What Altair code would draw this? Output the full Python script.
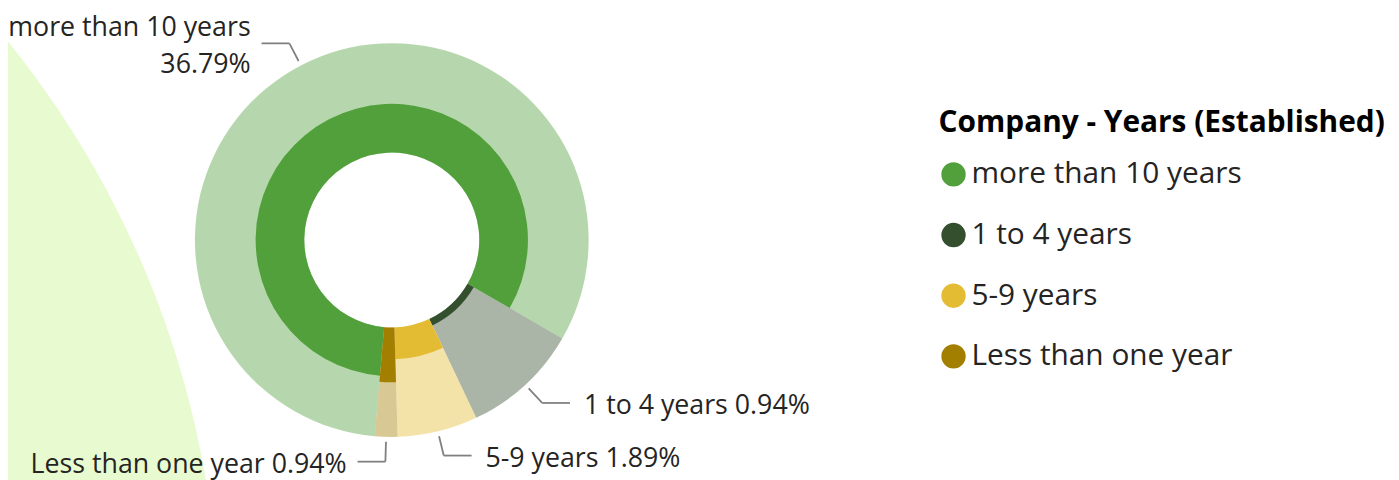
import math
import altair as alt

# ---------------- data ----------------
categories = ["more than 10 years", "1 to 4 years", "5-9 years", "Less than one year"]
slice_weight = [295.0, 34.6, 23.7, 6.7]        # angular extent of each slice
inner_value = [44.5, 6.5, 29.0, 50.0]          # radial length of the dark part (0-100)
share_pct = ["36.79%", "0.94%", "1.89%", "0.94%"]
dark_colors = ["#52A03B", "#344F2E", "#E4BC33", "#A37F00"]

label_lines = [[categories[0], share_pct[0]]] + [
    [f"{c} {p}"] for c, p in zip(categories[1:], share_pct[1:])
]

records = [
    {"idx": i, "cat": c, "span": s, "inner": v, "label": l, "nlines": len(l)}
    for i, (c, s, v, l) in enumerate(zip(categories, slice_weight, inner_value, label_lines))
]

# ---------------- layout ----------------
W, H = 1391, 472
CX, CY = 386, 232
HOLE, OUTER = 88, 198
START_DEG = 185.0
START = math.radians(START_DEG)
R1, R2, HLEN = 203, 223, 28
GAP_R, GAP_L = 14, 11
LH = 37

base = (
    alt.Chart(alt.Data(values=records))
    .transform_joinaggregate(total="sum(span)")
    .transform_window(cum="sum(span)", sort=[alt.SortField("idx")], frame=[None, 0])
    .transform_calculate(
        t0="(datum.cum - datum.span) / datum.total",
        t1="datum.cum / datum.total",
        mid=f"{START} + (datum.cum - datum.span / 2) / datum.total * 2 * PI",
    )
)

theta_scale = alt.Scale(domain=[0, 1], range=[START, START + 2 * math.pi])
color = alt.Color(
    "cat:N",
    scale=alt.Scale(domain=categories, range=dark_colors),
    legend=alt.Legend(
        title="Company - Years (Established)",
        orient="none", legendX=936, legendY=99,
        symbolType="circle", symbolSize=600, symbolStrokeWidth=0, symbolOpacity=1,
        labelFont="Open Sans", labelFontSize=30, labelColor="#252423",
        titleFont="Open Sans", titleFontSize=30, titleFontWeight="bold",
        titleColor="#000000", titlePadding=22, rowPadding=31, labelOffset=3,
        titleLimit=700, labelLimit=600,
    ),
)

bg = alt.Chart(alt.Data(values=[{"bg": 1}])).mark_arc(
    theta=0, theta2=2 * math.pi, radius=953, innerRadius=0, color="#E8FBD0"
).encode(x=alt.value(-741), y=alt.value(632))

light = base.mark_arc(innerRadius=HOLE, radius=OUTER, opacity=0.42).encode(
    theta=alt.Theta("t0:Q", scale=theta_scale, stack=None),
    theta2="t1:Q",
    color=color, x=alt.value(CX), y=alt.value(CY),
)

dark = base.mark_arc(innerRadius=HOLE).encode(
    theta=alt.Theta("t0:Q", scale=theta_scale, stack=None),
    theta2="t1:Q",
    radius=alt.Radius("inner:Q", scale=alt.Scale(type="linear", domain=[0, 100],
                                                  range=[HOLE, OUTER])),
    color=color, x=alt.value(CX), y=alt.value(CY),
)

geo = (
    base.transform_calculate(
        side="sin(datum.mid) >= 0 ? 1 : -1",
        px1=f"{CX} + {R1} * sin(datum.mid)",
        py1=f"{CY} - {R1} * cos(datum.mid)",
        px2=f"{CX} + {R2} * sin(datum.mid)",
        py2=f"{CY} - {R2} * cos(datum.mid)",
    )
    .transform_calculate(
        px3=f"datum.px2 + datum.side * {HLEN}",
        tx=f"datum.px2 + datum.side * ({HLEN} + (datum.side > 0 ? {GAP_R} : {GAP_L}))",
        ty=f"datum.py2 + 3 - (datum.nlines - 1) * {LH / 2}",
    )
)

radial = geo.mark_rule(color="#808080", strokeWidth=1.8).encode(
    x=alt.X("px1:Q", scale=None), y=alt.Y("py1:Q", scale=None),
    x2="px2:Q", y2="py2:Q",
)
horiz = geo.mark_rule(color="#808080", strokeWidth=1.8).encode(
    x=alt.X("px2:Q", scale=None), y=alt.Y("py2:Q", scale=None),
    x2="px3:Q", y2="py2:Q",
)

txt_kw = dict(baseline="middle", font="Open Sans", fontSize=26.9,
              color="#252423", lineHeight=LH)
text_right = geo.transform_filter("datum.side > 0").mark_text(align="left", **txt_kw).encode(
    x=alt.X("tx:Q", scale=None), y=alt.Y("ty:Q", scale=None), text=alt.Text("label:N")
)
text_left = geo.transform_filter("datum.side < 0").mark_text(align="right", **txt_kw).encode(
    x=alt.X("tx:Q", scale=None), y=alt.Y("ty:Q", scale=None), text=alt.Text("label:N")
)

chart = (
    alt.layer(bg, light, dark, radial, horiz, text_right, text_left)
    .properties(width=W, height=H, autosize=alt.AutoSizeParams(type="none"), padding=0)
    .configure_view(stroke=None)
)

chart.save("out.html", embed_options={"renderer": "svg", "actions": False})
